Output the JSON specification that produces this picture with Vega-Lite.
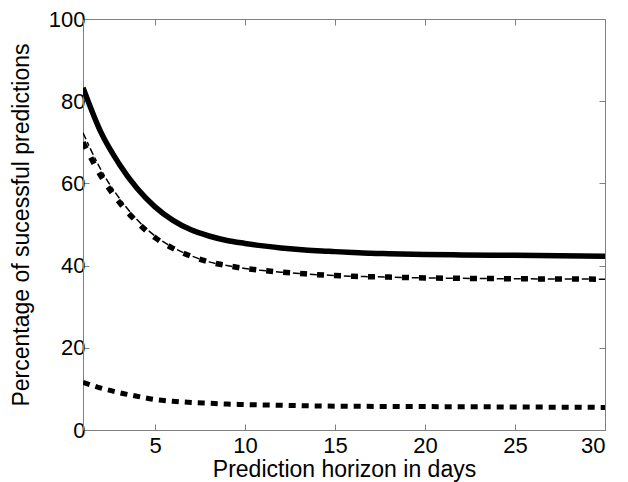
{
  "$schema": "https://vega.github.io/schema/vega-lite/v6.json",
  "autosize": {"type": "none"},
  "width": 522,
  "height": 411,
  "padding": {"left": 83, "top": 19, "right": 23, "bottom": 52},
  "background": "white",
  "config": {
    "view": {"stroke": "#808080", "strokeWidth": 1},
    "axis": {
      "labelFont": "Liberation Sans",
      "titleFont": "Liberation Sans",
      "labelFontSize": 22,
      "titleFontSize": 23,
      "titleFontWeight": "normal",
      "labelColor": "black",
      "titleColor": "black",
      "domainColor": "#808080",
      "tickColor": "#808080",
      "grid": false,
      "tickSize": -6
    }
  },
  "data": {
    "values": [
      {"x": 1, "s": "A", "y": 83.3}, {"x": 2, "s": "A", "y": 72.4}, {"x": 3, "s": "A", "y": 64.8}, {"x": 4, "s": "A", "y": 58.8},
      {"x": 5, "s": "A", "y": 54.3}, {"x": 6, "s": "A", "y": 51.0}, {"x": 7, "s": "A", "y": 48.7}, {"x": 8, "s": "A", "y": 47.2},
      {"x": 9, "s": "A", "y": 46.1}, {"x": 10, "s": "A", "y": 45.4}, {"x": 11, "s": "A", "y": 44.8}, {"x": 12, "s": "A", "y": 44.3},
      {"x": 13, "s": "A", "y": 43.9}, {"x": 14, "s": "A", "y": 43.6}, {"x": 15, "s": "A", "y": 43.4}, {"x": 16, "s": "A", "y": 43.2},
      {"x": 17, "s": "A", "y": 43.0}, {"x": 18, "s": "A", "y": 42.9}, {"x": 20, "s": "A", "y": 42.7}, {"x": 22, "s": "A", "y": 42.6},
      {"x": 25, "s": "A", "y": 42.5}, {"x": 30, "s": "A", "y": 42.3},
      {"x": 1, "s": "B", "y": 70.0}, {"x": 2, "s": "B", "y": 61.8}, {"x": 3, "s": "B", "y": 55.5}, {"x": 4, "s": "B", "y": 50.6},
      {"x": 5, "s": "B", "y": 46.8}, {"x": 6, "s": "B", "y": 44.2}, {"x": 7, "s": "B", "y": 42.3}, {"x": 8, "s": "B", "y": 40.9},
      {"x": 9, "s": "B", "y": 40.0}, {"x": 10, "s": "B", "y": 39.3}, {"x": 11, "s": "B", "y": 38.8}, {"x": 12, "s": "B", "y": 38.4},
      {"x": 13, "s": "B", "y": 38.1}, {"x": 14, "s": "B", "y": 37.8}, {"x": 15, "s": "B", "y": 37.6}, {"x": 16, "s": "B", "y": 37.4},
      {"x": 17, "s": "B", "y": 37.3}, {"x": 18, "s": "B", "y": 37.2}, {"x": 19, "s": "B", "y": 37.1}, {"x": 20, "s": "B", "y": 37.0},
      {"x": 22, "s": "B", "y": 36.9}, {"x": 25, "s": "B", "y": 36.8}, {"x": 30, "s": "B", "y": 36.7},
      {"x": 1, "s": "C", "y": 72.3}, {"x": 2, "s": "C", "y": 63.3}, {"x": 3, "s": "C", "y": 56.5}, {"x": 4, "s": "C", "y": 51.2},
      {"x": 5, "s": "C", "y": 47.2}, {"x": 6, "s": "C", "y": 44.4}, {"x": 7, "s": "C", "y": 42.4}, {"x": 8, "s": "C", "y": 40.9},
      {"x": 9, "s": "C", "y": 40.0}, {"x": 10, "s": "C", "y": 39.3}, {"x": 11, "s": "C", "y": 38.8}, {"x": 12, "s": "C", "y": 38.4},
      {"x": 13, "s": "C", "y": 38.1}, {"x": 14, "s": "C", "y": 37.8}, {"x": 15, "s": "C", "y": 37.6}, {"x": 16, "s": "C", "y": 37.4},
      {"x": 17, "s": "C", "y": 37.3}, {"x": 18, "s": "C", "y": 37.2}, {"x": 19, "s": "C", "y": 37.1}, {"x": 20, "s": "C", "y": 37.0},
      {"x": 22, "s": "C", "y": 36.9}, {"x": 25, "s": "C", "y": 36.8}, {"x": 30, "s": "C", "y": 36.7},
      {"x": 1, "s": "D", "y": 11.6}, {"x": 2, "s": "D", "y": 10.2}, {"x": 3, "s": "D", "y": 9.1}, {"x": 4, "s": "D", "y": 8.2},
      {"x": 5, "s": "D", "y": 7.4}, {"x": 6, "s": "D", "y": 7.0}, {"x": 7, "s": "D", "y": 6.7}, {"x": 8, "s": "D", "y": 6.5},
      {"x": 9, "s": "D", "y": 6.3}, {"x": 10, "s": "D", "y": 6.2}, {"x": 12, "s": "D", "y": 6.0}, {"x": 15, "s": "D", "y": 5.8},
      {"x": 20, "s": "D", "y": 5.7}, {"x": 25, "s": "D", "y": 5.6}, {"x": 30, "s": "D", "y": 5.5}
    ]
  },
  "resolve": {"axis": {"x": "independent", "y": "independent"}},
  "layer": [
    {
      "transform": [{"filter": "datum.s === 'A'"}],
      "mark": {"type": "line", "color": "black", "strokeWidth": 5.5, "interpolate": "monotone", "clip": true},
      "encoding": {
        "x": {"field": "x", "type": "quantitative", "scale": {"domain": [1, 30], "nice": false, "zero": false},
          "axis": {"values": [5, 10, 15, 20, 25, 30], "title": "Prediction horizon in days", "labelPadding": 11, "titlePadding": 2}},
        "y": {"field": "y", "type": "quantitative", "scale": {"domain": [0, 100], "nice": false},
          "axis": {"values": [0, 20, 40, 60, 80, 100], "title": "Percentage of sucessful predictions", "labelPadding": 4, "titlePadding": 15}}
      }
    },
    {
      "transform": [{"filter": "datum.s === 'C'"}],
      "mark": {"type": "line", "color": "black", "strokeWidth": 1.5, "strokeDash": [7, 3, 4, 3], "interpolate": "monotone", "clip": true},
      "encoding": {
        "x": {"field": "x", "type": "quantitative", "axis": null},
        "y": {"field": "y", "type": "quantitative", "axis": null}
      }
    },
    {
      "transform": [{"filter": "datum.s === 'B'"}],
      "mark": {"type": "line", "color": "black", "strokeWidth": 5.5, "strokeDash": [7, 10], "interpolate": "monotone", "clip": true},
      "encoding": {
        "x": {"field": "x", "type": "quantitative", "axis": null},
        "y": {"field": "y", "type": "quantitative", "axis": null}
      }
    },
    {
      "transform": [{"filter": "datum.s === 'D'"}],
      "mark": {"type": "line", "color": "black", "strokeWidth": 5, "strokeDash": [7, 6], "interpolate": "monotone", "clip": true},
      "encoding": {
        "x": {"field": "x", "type": "quantitative",
          "axis": {"orient": "top", "values": [5, 10, 15, 20, 25, 30], "labels": false, "title": null, "domain": false}},
        "y": {"field": "y", "type": "quantitative",
          "axis": {"orient": "right", "values": [0, 20, 40, 60, 80, 100], "labels": false, "title": null, "domain": false}}
      }
    }
  ]
}
